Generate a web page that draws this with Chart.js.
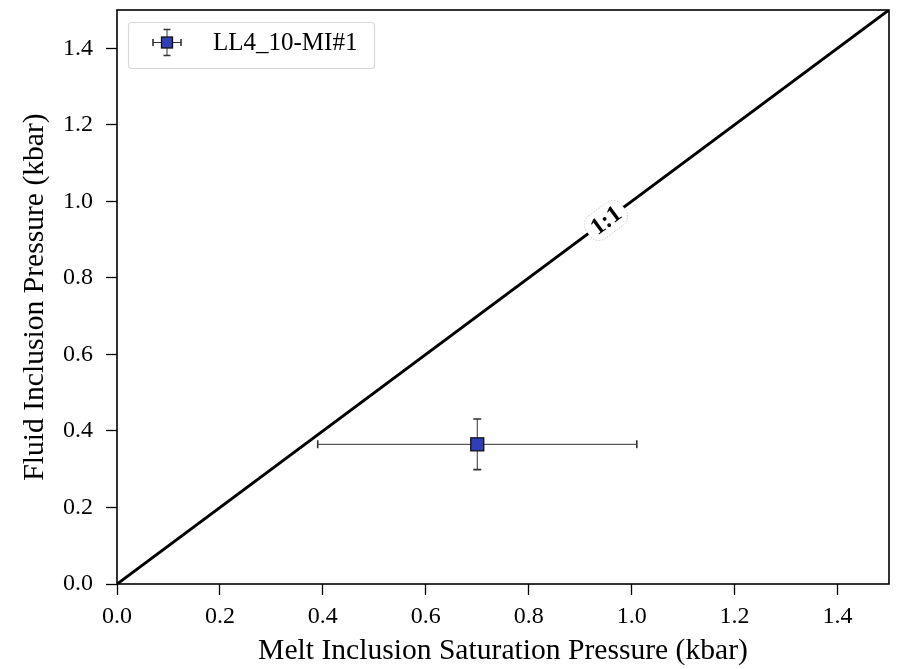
<!DOCTYPE html>
<html>
<head>
<meta charset="utf-8">
<script src="https://cdn.jsdelivr.net/npm/chart.js@4.4.1/dist/chart.umd.min.js"></script>
<style>
  html, body { margin: 0; padding: 0; background: #fff; }
  #wrap { width: 902px; height: 669px; }
</style>
</head>
<body>
<div id="wrap"><canvas id="c" width="902" height="669"></canvas></div>
<script>
// Sample: melt inclusion saturation pressure vs fluid inclusion pressure
const sampleNames = ["LL4_10-MI#1"];
const meltPressure = [0.70];      // kbar
const meltPressureErr = [0.31];   // kbar, 1 sigma
const fluidPressure = [0.365];    // kbar
const fluidPressureErr = [0.066]; // kbar, 1 sigma

// 1:1 reference line
const oneToOneX = [0, 1.5];
const oneToOneY = [0, 1.5];
const oneToOneLabel = "1:1";
const oneToOneLabelAt = 0.95;

const tickValues = [0.0, 0.2, 0.4, 0.6, 0.8, 1.0, 1.2, 1.4];

const serif = "'Liberation Serif', 'Times New Roman', serif";
const markerFill = "#2e3fb8";

function drawMarker(ctx, x, y, half) {
  ctx.fillStyle = markerFill;
  ctx.strokeStyle = '#111';
  ctx.lineWidth = 1.3;
  ctx.fillRect(x - half, y - half, half * 2, half * 2);
  ctx.strokeRect(x - half, y - half, half * 2, half * 2);
}

// Error bars for the scatter series
const errorBars = {
  id: 'errorBars',
  afterDatasetsDraw(chart) {
    const ctx = chart.ctx, xs = chart.scales.x, ys = chart.scales.y;
    ctx.save();
    meltPressure.forEach((mx, i) => {
      const px = xs.getPixelForValue(mx), py = ys.getPixelForValue(fluidPressure[i]);
      const x0 = xs.getPixelForValue(mx - meltPressureErr[i]);
      const x1 = xs.getPixelForValue(mx + meltPressureErr[i]);
      const y0 = ys.getPixelForValue(fluidPressure[i] - fluidPressureErr[i]);
      const y1 = ys.getPixelForValue(fluidPressure[i] + fluidPressureErr[i]);
      const cap = 4;
      ctx.strokeStyle = '#333';
      ctx.lineWidth = 1;
      ctx.beginPath();
      ctx.moveTo(x0, py); ctx.lineTo(x1, py);
      ctx.moveTo(px, y0); ctx.lineTo(px, y1);
      ctx.stroke();
      ctx.lineWidth = 1.6;
      ctx.beginPath();
      ctx.moveTo(x0, py - cap); ctx.lineTo(x0, py + cap);
      ctx.moveTo(x1, py - cap); ctx.lineTo(x1, py + cap);
      ctx.moveTo(px - cap, y0); ctx.lineTo(px + cap, y0);
      ctx.moveTo(px - cap, y1); ctx.lineTo(px + cap, y1);
      ctx.stroke();
      drawMarker(ctx, px, py, 6.5);
    });
    ctx.restore();
  }
};

// Inline label on the 1:1 line, rotated along it
const lineLabel = {
  id: 'lineLabel',
  afterDatasetsDraw(chart) {
    const ctx = chart.ctx, xs = chart.scales.x, ys = chart.scales.y;
    const px = xs.getPixelForValue(oneToOneLabelAt), py = ys.getPixelForValue(oneToOneLabelAt);
    const ang = Math.atan2(ys.getPixelForValue(oneToOneY[1]) - ys.getPixelForValue(oneToOneY[0]),
                           xs.getPixelForValue(oneToOneX[1]) - xs.getPixelForValue(oneToOneX[0]));
    ctx.save();
    ctx.translate(px, py);
    ctx.rotate(ang);
    ctx.font = "bold 24px " + serif;
    const w = ctx.measureText(oneToOneLabel).width;
    ctx.beginPath();
    ctx.roundRect(-w / 2 - 6, -14, w + 12, 28, 11);
    ctx.fillStyle = '#fff';
    ctx.fill();
    ctx.setLineDash([1.5, 1.5]);
    ctx.strokeStyle = '#c4c4c4';
    ctx.lineWidth = 0.8;
    ctx.stroke();
    ctx.setLineDash([]);
    ctx.fillStyle = '#000';
    ctx.textAlign = 'center';
    ctx.textBaseline = 'middle';
    ctx.fillText(oneToOneLabel, 0, 1);
    ctx.restore();
  }
};

// Legend box in the upper-left of the plot area
const legendBox = {
  id: 'legendBox',
  afterDraw(chart) {
    const ctx = chart.ctx, a = chart.chartArea;
    const bx = a.left + 11.5, by = a.top + 12.5, bw = 246, bh = 46;
    ctx.save();
    ctx.beginPath();
    ctx.roundRect(bx, by, bw, bh, 3);
    ctx.fillStyle = 'rgba(255,255,255,0.85)';
    ctx.fill();
    ctx.strokeStyle = '#d8d8d8';
    ctx.lineWidth = 1.2;
    ctx.stroke();
    const mx = bx + 38.5, my = by + 20;
    ctx.strokeStyle = '#333';
    ctx.lineWidth = 1;
    ctx.beginPath();
    ctx.moveTo(mx - 14, my); ctx.lineTo(mx + 14, my);
    ctx.moveTo(mx, my - 13); ctx.lineTo(mx, my + 13);
    ctx.stroke();
    ctx.lineWidth = 1.6;
    ctx.beginPath();
    ctx.moveTo(mx - 14, my - 3.5); ctx.lineTo(mx - 14, my + 3.5);
    ctx.moveTo(mx + 14, my - 3.5); ctx.lineTo(mx + 14, my + 3.5);
    ctx.moveTo(mx - 3.5, my - 13); ctx.lineTo(mx + 3.5, my - 13);
    ctx.moveTo(mx - 3.5, my + 13); ctx.lineTo(mx + 3.5, my + 13);
    ctx.stroke();
    drawMarker(ctx, mx, my, 5.5);
    ctx.fillStyle = '#000';
    ctx.font = "25px " + serif;
    ctx.textBaseline = 'middle';
    ctx.fillText(sampleNames[0], bx + 84.5, my + 1);
    ctx.restore();
  }
};

// Full frame around the plot area
const frame = {
  id: 'frame',
  afterDraw(chart) {
    const ctx = chart.ctx, a = chart.chartArea;
    ctx.save();
    ctx.strokeStyle = '#000';
    ctx.lineWidth = 1.6;
    ctx.strokeRect(a.left, a.top, a.right - a.left, a.bottom - a.top);
    ctx.restore();
  }
};

const axisCommon = (title) => ({
  type: 'linear',
  min: 0,
  max: 1.5,
  afterBuildTicks: (s) => { s.ticks = tickValues.map(v => ({ value: v })); },
  grid: { drawOnChartArea: false, drawTicks: true, tickLength: 11, tickColor: '#000', tickWidth: 1.3 },
  border: { display: false },
  ticks: {
    color: '#000',
    font: { family: serif, size: 24 },
    padding: 7,
    maxRotation: 0,
    callback: (v) => v.toFixed(1)
  },
  title: { display: true, text: title, color: '#000', font: { family: serif, size: 29.6 } }
});

const xAxis = axisCommon('Melt Inclusion Saturation Pressure (kbar)');
xAxis.afterFit = (s) => { s.height = 85; s.paddingLeft = 0; s.paddingRight = 0; };
xAxis.title.padding = { top: 0, bottom: 0 };
const yAxis = axisCommon('Fluid Inclusion Pressure (kbar)');
yAxis.afterFit = (s) => { s.width = 117; s.paddingTop = 0; s.paddingBottom = 0; };
yAxis.title.padding = { top: 17, bottom: 0 };
yAxis.ticks.padding = 13;

new Chart(document.getElementById('c'), {
  type: 'scatter',
  data: {
    datasets: [
      {
        type: 'line',
        label: oneToOneLabel,
        data: oneToOneX.map((x, i) => ({ x, y: oneToOneY[i] })),
        borderColor: '#000',
        borderWidth: 3,
        pointRadius: 0,
        fill: false
      },
      {
        label: sampleNames[0],
        data: meltPressure.map((x, i) => ({ x, y: fluidPressure[i] })),
        pointRadius: 0
      }
    ]
  },
  options: {
    responsive: false,
    animation: false,
    devicePixelRatio: 1,
    layout: { padding: { left: 0, top: 10, right: 13, bottom: 0 } },
    plugins: { legend: { display: false }, tooltip: { enabled: false } },
    scales: { x: xAxis, y: yAxis }
  },
  plugins: [errorBars, lineLabel, legendBox, frame]
});
</script>
</body>
</html>
